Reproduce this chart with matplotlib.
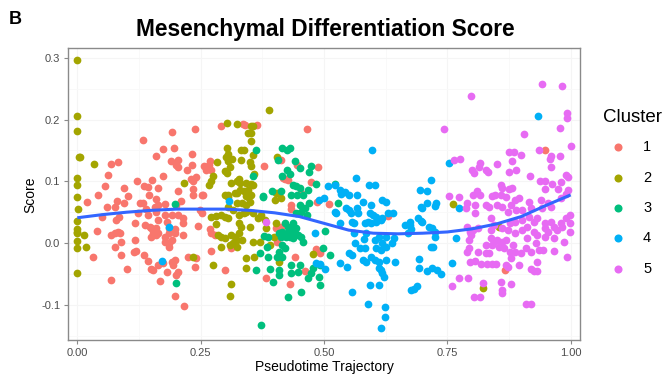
import matplotlib
matplotlib.use("Agg")
import matplotlib.pyplot as plt
from matplotlib.lines import Line2D
from matplotlib.ticker import MultipleLocator

plt.rcParams['font.family'] = ['Liberation Sans', 'DejaVu Sans']

cluster_names = ["1", "2", "3", "4", "5"]
cluster_colors = ["#F8766D", "#A3A500", "#00BF7D", "#00B0F6", "#E76BF3"]

# (pseudotime, score) per cell
cluster1 = [
    (.134, .167), (.191, .180), (.239, .184), (.292, .189), (.335, .193), (.174, .153), (.197, .154),
    (.160, .141), (.069, .128), (.083, .132), (.189, .133), (.205, .135), (.201, .127), (.205, .124),
    (.233, .145), (.233, .127), (.223, .119), (.256, .125), (.260, .119), (.270, .133), (.272, .119),
    (.266, .127), (.241, .107), (.231, .104), (.235, .101), (.174, .109), (.063, .111), (.122, .101),
    (.152, .102), (.136, .093), (.144, .091), (.164, .089), (.057, .093), (.095, .089), (.205, .085),
    (.235, .088), (.254, .078), (.041, .078), (.103, .076), (.146, .078),
    (.339, .192), (.365, .192), (.465, .184), (.379, .125), (.412, .135), (.446, .127), (.487, .124),
    (.416, .106), (.422, .104), (.428, .102), (.473, .099), (.355, .094), (.454, .081),
    (.949, .150),
    (.020, .067), (.081, .068), (.095, .065), (.061, .059), (.077, .059), (.085, .042), (.079, .037),
    (.051, .042), (.128, .065), (.134, .065), (.140, .055), (.124, .049), (.144, .046), (.160, .072),
    (.164, .062), (.178, .063), (.160, .050), (.178, .046), (.164, .037), (.181, .034), (.191, .046),
    (.201, .062), (.211, .068), (.205, .046), (.215, .041), (.215, .033), (.199, .023), (.199, .016),
    (.185, .016), (.178, .010), (.191, .005), (.185, .000), (.178, .002), (.185, -.007), (.164, .016),
    (.154, .016), (.150, .024), (.148, .026), (.160, .024), (.118, .033), (.116, .005), (.114, -.015),
    (.120, -.013), (.089, .002), (.077, .016), (.069, .013), (.083, .018), (.087, .016), (.039, .020),
    (.032, -.023), (.077, -.007), (.089, -.020), (.136, -.020), (.144, -.029), (.154, -.044),
    (.150, -.042), (.164, -.036), (.174, -.033), (.181, -.047), (.168, -.062), (.191, -.031),
    (.199, -.028), (.195, -.036), (.205, -.047), (.201, -.052), (.199, -.085), (.217, -.102),
    (.101, -.042), (.069, -.059), (.215, .013), (.245, .028), (.252, .049), (.249, .054), (.235, .078),
    (.252, .078), (.225, -.023), (.241, -.024), (.239, -.039), (.270, .023), (.272, .016), (.280, .013),
    (.272, -.013), (.300, -.044), (.312, -.008), (.138, .029), (.150, .010), (.160, .013), (.185, .024),
    (.158, .059),
    (.434, .062), (.434, .055), (.485, .067), (.511, .063), (.402, .024), (.412, .026), (.404, .002),
    (.442, -.023), (.483, -.010), (.493, -.016), (.462, -.046), (.383, -.057), (.432, -.067),
    (.629, .044), (.866, -.044),
]

cluster2 = [
    (.000, .296), (.000, .206), (.000, .182), (.004, .140), (.006, .140), (.034, .128), (.000, .106),
    (.000, .094), (.000, .075), (.284, .132), (.304, .154), (.306, .145), (.302, .140), (.314, .137),
    (.306, .133), (.331, .151), (.331, .135), (.300, .117), (.304, .114), (.310, .124), (.276, .109),
    (.272, .101), (.268, .094), (.217, .098), (.312, .098), (.323, .101), (.329, .098), (.304, .195),
    (.323, .193), (.300, .078), (.306, .078), (.323, .081),
    (.389, .215), (.353, .190), (.357, .190), (.347, .179), (.353, .179), (.353, .166), (.337, .151),
    (.357, .143), (.351, .132), (.353, .125), (.359, .112), (.327, .104), (.343, .098), (.353, .096),
    (.357, .094), (.329, .086), (.337, .085), (.347, .086), (.353, .078), (.341, .076), (.404, .140),
    (.406, .081),
    (.002, .055), (.000, .036), (.000, .023), (.000, .018), (.000, .016), (.014, .013), (.000, .003),
    (.000, -.008), (.018, -.007), (.000, -.049), (.235, -.023), (.276, -.036), (.312, -.067),
    (.310, -.086), (.306, .075), (.320, .081), (.323, .065), (.306, .059), (.316, .054), (.272, .042),
    (.282, .044), (.292, .046), (.300, .042), (.306, .041), (.282, .031), (.286, .013), (.292, .010),
    (.300, .008), (.312, .013), (.320, .010), (.323, .005), (.316, .000), (.310, -.003), (.292, -.007),
    (.323, -.007), (.327, .033), (.331, .026),
    (.347, .075), (.351, .067), (.333, .065), (.343, .062), (.341, .050), (.357, .049), (.327, .046),
    (.337, .049), (.367, .041), (.373, .046), (.351, .026), (.381, .037), (.402, .033), (.383, .024),
    (.327, .016), (.333, .005), (.357, .002), (.371, .002), (.391, -.003), (.398, .010), (.343, -.024),
    (.359, -.023), (.343, -.041), (.408, -.031), (.477, -.018), (.402, .081), (.412, .073), (.400, .070),
    (.761, .063), (.854, .026), (.822, -.073),
]

cluster3 = [
    (.363, .151), (.414, .154), (.432, .154), (.426, .150), (.406, .135), (.442, .133), (.452, .122),
    (.473, .125), (.426, .119), (.432, .112), (.469, .115), (.414, .109), (.357, .109), (.483, .096),
    (.438, .094), (.444, .093), (.452, .089), (.467, .086), (.394, .085), (.412, .085), (.377, .076),
    (.434, .078), (.446, .078), (.458, .078), (.523, .096), (.529, .065),
    (.199, .063), (.201, -.065),
    (.377, .075), (.452, .062), (.462, .057), (.469, .065), (.454, .050), (.444, .049), (.465, .046),
    (.422, .033), (.428, .026), (.434, .021), (.438, .033), (.444, .024), (.442, .016), (.448, .013),
    (.428, .018), (.414, .018), (.412, .010), (.424, .010), (.432, .010), (.438, .008), (.454, .010),
    (.458, .002), (.408, .016), (.503, .020), (.387, .010), (.414, -.003), (.422, -.008), (.408, -.015),
    (.414, -.023), (.404, -.023), (.499, -.008), (.513, -.020), (.391, -.042), (.408, -.044),
    (.408, -.052), (.434, -.036), (.452, -.036), (.434, -.049), (.448, -.047), (.473, -.049),
    (.467, -.057), (.493, -.036), (.489, -.055), (.493, -.068), (.363, -.044), (.396, -.063),
    (.454, -.080), (.428, -.088), (.373, -.132),
    (.379, .011), (.385, -.007), (.371, -.016), (.387, -.023), (.477, -.041),
]

cluster4 = [
    (.598, .151), (.564, .106), (.509, .093), (.523, .094), (.533, .086), (.542, .083), (.550, .078),
    (.535, .080), (.568, .078), (.592, .094), (.604, .094), (.501, .073),
    (.933, .206), (.753, .130), (.716, .102), (.694, .086), (.708, .085),
    (.544, .057), (.639, .049),
    (.489, .070), (.525, .049), (.523, .050), (.550, .054), (.554, .049), (.566, .057), (.570, .049),
    (.596, .062), (.580, .067), (.617, .070), (.625, .067), (.600, .046), (.594, .049), (.606, .042),
    (.533, .033), (.556, .034), (.560, .033), (.584, .033), (.590, .034), (.596, .033), (.606, .034),
    (.615, .037), (.617, .041), (.665, .029), (.675, .029), (.481, .016), (.562, .000), (.582, .006),
    (.586, .016), (.604, .005), (.611, .010), (.617, .000), (.606, -.008), (.584, -.008), (.625, -.006),
    (.637, .000), (.641, .008), (.550, -.016), (.556, -.020), (.596, -.023), (.604, -.028),
    (.586, -.031), (.611, -.031), (.625, -.028), (.645, -.031), (.533, -.033), (.546, -.039),
    (.483, -.033), (.493, -.034), (.503, -.042), (.611, -.041), (.617, -.049), (.594, -.068),
    (.611, -.068), (.556, -.080), (.590, -.099), (.623, -.104), (.623, -.120), (.615, -.137),
    (.677, -.076),
    (.696, .059), (.698, .057), (.708, .065), (.728, .065), (.726, .060), (.773, .057), (.690, .041),
    (.696, .036), (.698, .034), (.675, .034), (.712, .026), (.718, .024), (.677, .023), (.726, .018),
    (.726, .010), (.671, .016), (.767, .008), (.716, -.006), (.722, -.006), (.692, -.026),
    (.692, -.041), (.759, -.033), (.708, -.046), (.718, -.041), (.730, -.044), (.738, -.050),
    (.688, -.070), (.682, -.075),
    (.308, .068), (.185, .026), (.172, -.029),
    (.625, .010), (.615, -.012), (.580, -.028), (.615, -.044), (.621, -.055), (.560, .016),
    (.574, -.008), (.629, .049),
]

cluster5 = [
    (.799, .239), (.941, .257), (.982, .254), (.744, .184), (.992, .211), (.992, .203), (.978, .187),
    (.905, .176), (1.000, .158), (.876, .148), (.886, .148), (.935, .150), (.899, .143), (.961, .141),
    (.959, .137), (.978, .141), (.763, .135), (.775, .137), (.882, .133), (.850, .128), (.817, .130),
    (.815, .124), (.961, .124), (.801, .119), (.805, .114), (.828, .119), (.832, .115), (.876, .115),
    (.890, .119), (.917, .109), (.990, .111), (.994, .107), (.937, .101), (.949, .101), (.963, .096),
    (.980, .099), (.858, .094), (.860, .089), (.876, .088), (.882, .089), (.949, .088), (.974, .088),
    (.994, .086), (.846, .078), (.858, .078), (.811, .085), (.817, .078), (.803, .078), (.753, .076),
    (.773, .075), (.895, .073),
    (.840, .076), (.868, .075), (.888, .070), (.915, .067), (.939, .070), (.955, .065), (.980, .073),
    (.990, .080), (.789, .065), (.807, .062), (.828, .062), (.834, .059), (.850, .062), (.860, .059),
    (.874, .050), (.890, .054), (.880, .062), (.901, .054), (.919, .057), (.941, .057), (.961, .059),
    (.787, .057), (.807, .049),
    (.838, .041), (.878, .033), (.888, .034), (.901, .037), (.915, .042), (.925, .034), (.931, .041),
    (.949, .033), (.961, .034), (.980, .033), (.990, .041), (.998, .046), (.998, .033), (.789, .026),
    (.797, .018), (.803, .021), (.813, .024), (.799, .013), (.838, .021), (.844, .029), (.860, .024),
    (.874, .021), (.888, .016), (.901, .021), (.911, .026), (.925, .018), (.931, .013), (.949, .024),
    (.955, .018), (.966, .026), (.972, .021), (.982, .026), (.998, .018),
    (.793, .005), (.838, .008), (.844, .002), (.850, .005), (.860, .002), (.868, .005), (.828, -.003),
    (.840, -.003), (.854, -.007), (.864, -.008), (.884, -.003), (.911, .008), (.929, .000), (.949, .010),
    (.966, .008), (.986, .002), (.789, -.015), (.793, -.008), (.813, -.015), (.828, -.016),
    (.834, -.016), (.878, -.015), (.888, -.015), (.899, -.016), (.909, -.008), (.919, -.015),
    (.935, -.011), (.945, -.011), (.966, -.013), (.992, -.023),
    (.797, -.031), (.807, -.029), (.819, -.034), (.830, -.034), (.840, -.034), (.848, -.034),
    (.868, -.036), (.874, -.039), (.880, -.024), (.895, -.036), (.919, -.042), (.925, -.046),
    (.931, -.046), (.931, -.031), (.773, -.057), (.791, -.057), (.759, -.070), (.858, -.063),
    (.880, -.067), (.909, -.098), (.919, -.099), (.805, -.088), (.817, -.088), (.860, -.076),
    (.860, -.081), (.822, -.065),
    (.383, .034),
]

# smoothed trend of the score along pseudotime
smooth_time = [0.0, 0.05, 0.10, 0.15, 0.20, 0.25, 0.30, 0.35, 0.40, 0.45, 0.50,
               0.55, 0.60, 0.65, 0.70, 0.75, 0.80, 0.85, 0.90, 0.95, 1.0]
smooth_score = [0.041, 0.046, 0.050, 0.053, 0.055, 0.055, 0.055, 0.053, 0.049, 0.043, 0.032,
                0.021, 0.016, 0.015, 0.016, 0.018, 0.023, 0.031, 0.043, 0.061, 0.078]

x_ticks = [0.0, 0.25, 0.5, 0.75, 1.0]
x_tick_labels = ["0.00", "0.25", "0.50", "0.75", "1.00"]
y_ticks = [-0.1, 0.0, 0.1, 0.2, 0.3]
y_tick_labels = ["-0.1", "0.0", "0.1", "0.2", "0.3"]

W, H = 665, 379
fig = plt.figure(figsize=(W / 100, H / 100), dpi=100)
ax = fig.add_axes([68 / W, 1 - 340 / H, 512 / W, 292 / H])

for pts, col in zip([cluster1, cluster2, cluster3, cluster4, cluster5], cluster_colors):
    xs = [p[0] for p in pts]
    ys = [p[1] for p in pts]
    ax.scatter(xs, ys, s=31, color=col, linewidths=0, zorder=3)

ax.plot(smooth_time, smooth_score, color="#3366FF", lw=2.2, zorder=4, solid_capstyle="butt")

ax.set_xlim(-0.0188, 1.019)
ax.set_ylim(-0.157, 0.316)
ax.set_xticks(x_ticks)
ax.set_xticklabels(x_tick_labels)
ax.set_yticks(y_ticks)
ax.set_yticklabels(y_tick_labels)
ax.xaxis.set_minor_locator(MultipleLocator(0.125))
ax.yaxis.set_minor_locator(MultipleLocator(0.05))

ax.grid(which="major", color="#f5f5f5", lw=0.8, zorder=0)
ax.grid(which="minor", color="#f9f9f9", lw=0.6, zorder=0)
ax.set_axisbelow(True)

for sp in ax.spines.values():
    sp.set_color("#8a8a8a")
    sp.set_linewidth(1.0)
ax.tick_params(which="major", length=3, width=0.8, color="#8a8a8a",
               labelsize=8, labelcolor="#4d4d4d", pad=2.5)
ax.tick_params(which="minor", length=0)

fig.text(325 / W, 1 - 36 / H, "Mesenchymal Differentiation Score", ha="center",
         va="baseline", fontsize=16.4, fontweight="bold")
fig.text(9 / W, 1 - 24 / H, "B", ha="left", va="baseline", fontsize=13, fontweight="bold")
fig.text(324 / W, 1 - 371 / H, "Pseudotime Trajectory", ha="center", va="baseline", fontsize=10)
fig.text(30 / W, 1 - 195 / H, "Score", ha="center", va="center", rotation=90, fontsize=10)

# legend
fig.text(603 / W, 1 - 122 / H, "Cluster", ha="left", va="baseline", fontsize=13.5)
legend_y = [147, 178, 208, 238, 269]
for name, col, yy in zip(cluster_names, cluster_colors, legend_y):
    fig.add_artist(Line2D([618 / W], [1 - yy / H], marker="o", markersize=5.8, color=col,
                          markeredgewidth=0, linestyle="none", transform=fig.transFigure))
    fig.text(643 / W, 1 - yy / H, name, ha="left", va="center", fontsize=10.5)

fig.savefig("out.png", dpi=100)
